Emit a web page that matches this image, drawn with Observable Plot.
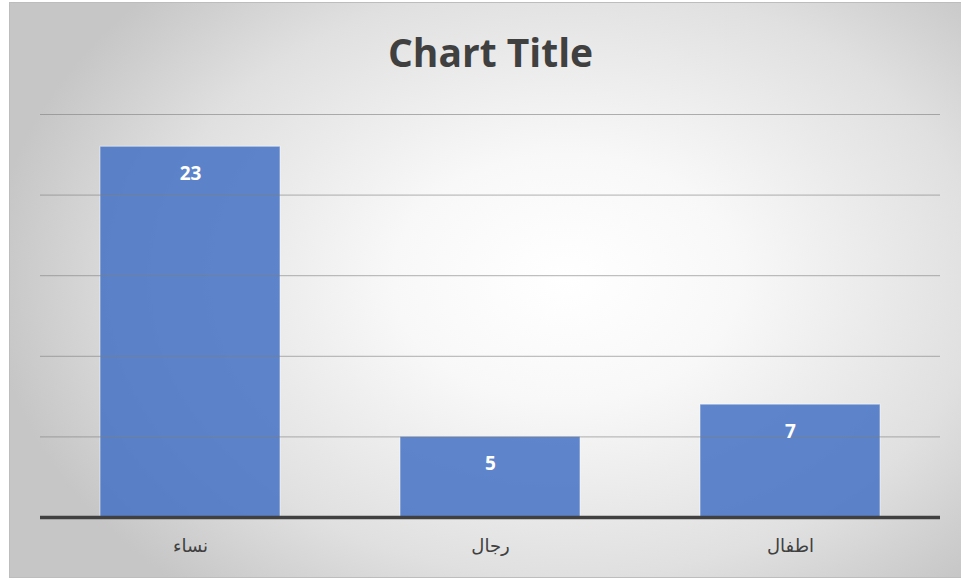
<!DOCTYPE html>
<html>
<head>
<meta charset="utf-8">
<script src="https://cdn.jsdelivr.net/npm/d3@7"></script>
<script src="https://cdn.jsdelivr.net/npm/@observablehq/plot@0.6"></script>
<style>
  html, body { margin: 0; padding: 0; background: #ffffff; }
  #frame {
    position: absolute; left: 9px; top: 2px; width: 958px; height: 574px;
    border: 1px solid #bdbdbd;
    background: radial-gradient(ellipse 60% 72% at 58% 48%, #ffffff 0%, #f8f8f8 30%, #e0e0e0 72%, #c6c6c6 100%);
    overflow: hidden;
  }
  #title {
    position: absolute; left: 10px; top: 26px; width: 961px; text-align: center;
    font-family: "Open Sans", sans-serif; font-weight: 700; font-size: 39px; color: #404040;
    line-height: 52px;
  }
  #chart { position: absolute; left: 0; top: 100px; }
</style>
</head>
<body>
<div id="frame"></div>
<div id="title">Chart Title</div>
<div id="chart"></div>
<script>
const categories = ["نساء", "رجال", "اطفال"];
const values = [23, 5, 7];
const yTicks = [0, 5, 10, 15, 20, 25];

const data = categories.map((c, i) => ({category: c, value: values[i]}));

const plot = Plot.plot({
  width: 961,
  height: 480,
  marginTop: 14,
  marginBottom: 63,
  marginLeft: 40,
  marginRight: 21,
  style: {background: "transparent", overflow: "visible"},
  x: {domain: categories, paddingInner: 0.4, paddingOuter: 0.2, label: null},
  y: {domain: [0, 25], label: null},
  marks: [
    Plot.barY(data, {x: "category", y: "value", fill: "#4472c4", fillOpacity: 0.85, stroke: "#ffffff", strokeOpacity: 0.5, strokeWidth: 1}),
    Plot.ruleY(yTicks.filter(d => d > 0), {stroke: "#7f7f7f", strokeOpacity: 0.6, strokeWidth: 1}),
    Plot.ruleY([0], {stroke: "#404040", strokeWidth: 3.5}),
    Plot.text(data, {x: "category", y: "value", text: d => String(d.value), dy: 27, fill: "#ffffff", fontWeight: "bold", fontSize: 19, fontFamily: "Open Sans, sans-serif"}),
    Plot.axisX({tickSize: 0, tickPadding: 22, fontSize: 18, fill: "#404040", fontFamily: "DejaVu Sans, sans-serif", label: null}),
    Plot.axisY({ticks: [], label: null})
  ]
});
document.getElementById("chart").appendChild(plot);
</script>
</body>
</html>
